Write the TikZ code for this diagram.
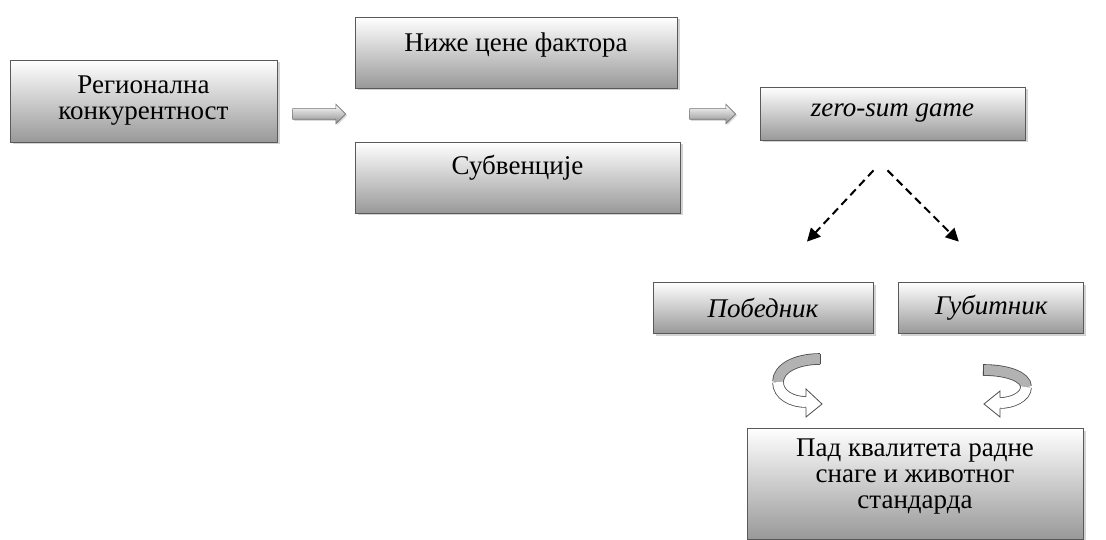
\documentclass[tikz,border=0pt]{standalone}
\usepackage{fontspec}
\setmainfont{Liberation Serif}[Ligatures=TeX]
\newfontfamily\boxfont{Liberation Serif}
\usetikzlibrary{
    arrows.meta,
    positioning,
    shadows,
    shapes.arrows
}
\tikzset{
    every picture/.style = {
        > = Stealth
    },
    box/.style = {
        draw = black!65,
        line width = 0.8pt,
        top color = white,
        bottom color = black!40,
        drop shadow = {shadow xshift = 2.5pt, shadow yshift = -2.5pt, opacity = 0.35},
        align = center,
        inner sep = 0pt,
        font = \boxfont\fontsize{27}{26}\selectfont
    },
    txt/.style = {
        inner sep = 0pt,
        align = center,
        font = \boxfont\fontsize{27}{26}\selectfont
    },
    fatarrow/.style = {
        single arrow,
        draw = black!55,
        line width = 0.6pt,
        top color = white,
        bottom color = black!45,
        inner xsep = 0pt,
        inner ysep = 5pt,
        single arrow head extend = 4.5pt,
        single arrow head indent = 0pt,
        drop shadow = {shadow xshift = 1.5pt, shadow yshift = -1.5pt, opacity = 0.3}
    },
    dasharrow/.style = {
        line width = 2pt,
        dash pattern = on 8pt off 5pt,
        -{Triangle[length = 13pt, width = 13pt]}
    },
    ribbon/.style = {
        line width = 0.8pt,
        draw = black!70,
        double distance = 10pt
    }
}

\begin{document}
\begin{tikzpicture}[x = 1pt, y = -1pt]
    \useasboundingbox (0,0) rectangle (1106,540);

    % boxes
    \node[box, minimum width = 267pt, minimum height = 82pt] (reg) at (143.5,101) {Регионална\\конкурентност};
    \node[box, minimum width = 322pt, minimum height = 71pt] (nize) at (516,52.5) {};
    \node[box, minimum width = 325pt, minimum height = 71pt] (sub) at (517.5,177.5) {};
    \node[box, minimum width = 265pt, minimum height = 53pt] (zero) at (892.5,113.5) {\itshape zero-sum game};
    \node[box, minimum width = 220pt, minimum height = 51pt] (pob) at (763,307.5) {\itshape Победник};
    \node[box, minimum width = 185pt, minimum height = 51pt] (gub) [right = 25pt of pob] {\itshape Губитник};
    \node[box, minimum width = 336pt, minimum height = 111pt] (pad) at (915,483.5) {};

    \node[txt] (nizet) at ([yshift = 7pt]nize.center) {Ниже цене фактора};
    \node[txt] (subt) at ([yshift = 10pt]sub.center) {Субвенције};
    \node[txt] (padt) at ([yshift = 7pt]pad.center) {Пад квалитета радне\\снаге и животног\\стандарда};

    % block arrows
    \node[fatarrow, minimum height = 53pt] (arr1) at (316.5,114) {};
    \node[fatarrow, minimum height = 46pt] (arr2) at (710,114) {};

    % split of zero-sum game
    \coordinate (fork) at ([yshift = -30pt]zero.south);
    \coordinate (winend) at ([shift = {(44pt,40pt)}]pob.north);
    \coordinate (loseend) at ([shift = {(-32.5pt,40pt)}]gub.north);
    \draw[dasharrow] ([xshift = -19pt]fork) -- (winend);
    \draw[dasharrow] ([xshift = -5pt]fork) -- (loseend);

    % curled arrows
    \draw[ribbon, double = black!30] (820,359) .. controls (795,359) and (778,369) .. (778,382);
    \draw[ribbon, double = white] (778,382) .. controls (778,395) and (792,402) .. (806,402);
    \draw[draw = black!70, line width = 0.8pt] (820,353.6) -- (820,364.4);
    \draw[draw = black!70, line width = 0.8pt, fill = white] (806,396.6) -- (806,389) -- (822,404) -- (806,417) -- (806,407.4);

    \draw[ribbon, double = black!30] (983,370) .. controls (1008,370) and (1026,377) .. (1026,387);
    \draw[ribbon, double = white] (1026,387) .. controls (1026,397) and (1012,403) .. (1000,403);
    \draw[draw = black!70, line width = 0.8pt] (983,364.6) -- (983,375.4);
    \draw[draw = black!70, line width = 0.8pt, fill = white] (1000,397.6) -- (1000,391) -- (984,404) -- (1000,417) -- (1000,408.4);
\end{tikzpicture}
\end{document}
